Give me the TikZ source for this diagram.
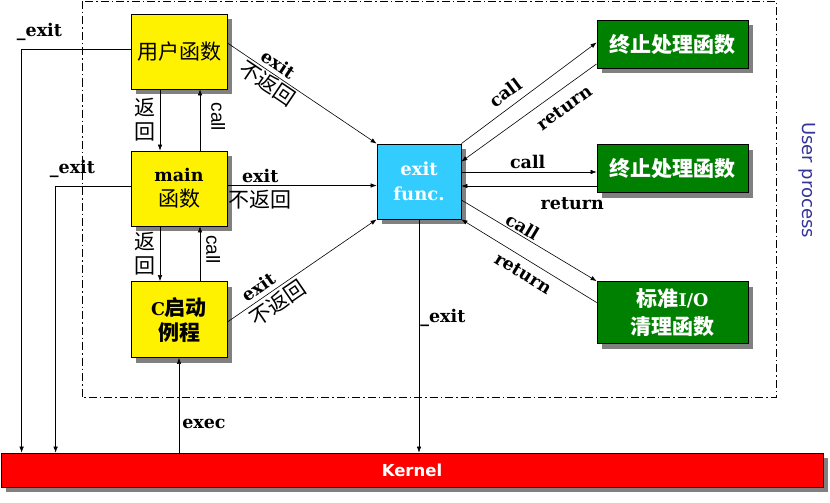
\documentclass[tikz,border=0pt]{standalone}
\usepackage{fontspec}
\setmainfont{DejaVu Serif}
\setsansfont{DejaVu Sans}
\newfontfamily\cjk{Noto Sans CJK SC}
\newfontfamily\arialf{Liberation Sans}
\usetikzlibrary{arrows.meta,calc,shadows}

\definecolor{shade}{RGB}{128,128,128}
\definecolor{xblue}{RGB}{51,204,255}
\definecolor{hgreen}{RGB}{0,128,0}
\definecolor{upblue}{RGB}{51,51,153}

\newcommand\zh[1]{{\cjk\fontsize{21}{25}\selectfont #1}}

\begin{document}
\begin{tikzpicture}[x=1pt,y=-1pt,
  box/.style={draw,line width=0.8pt,inner sep=0pt,align=center,
    drop shadow={shadow xshift=5pt,shadow yshift=-5pt,fill=shade,opacity=1}},
  ubox/.style={box,fill=yellow,minimum width=96pt,minimum height=75pt,
    font=\bfseries\fontsize{17.5}{25}\selectfont},
  hbox/.style={box,fill=hgreen,text=white,minimum width=151pt,minimum height=48pt,
    font=\bfseries\fontsize{17.5}{28}\selectfont},
  arr/.style={-{Latex[length=6pt,width=4.5pt]},line width=0.6pt},
  lbl/.style={font=\bfseries\fontsize{17.5}{20}\selectfont,inner sep=2pt},
  zlbl/.style={font=\cjk\fontsize{21}{24}\selectfont,inner sep=2pt},
  vlbl/.style={font=\arialf\fontsize{19}{20}\selectfont,rotate=-90,anchor=south}]

  \useasboundingbox (0,0) rectangle (830,503);

  %% user process frame
  \draw[line width=0.7pt,dash pattern=on 8pt off 3pt on 1.5pt off 3pt]
  (82,1) rectangle (776,397.5);
  \node[rotate=-90,text=upblue,font=\sffamily\fontsize{18}{20}\selectfont]
  (uproc) at (807,180) {User process};

  \node[ubox] (ufunc) at (179,51.5) {\mdseries\zh{用户函数}};
  \node[ubox] (mainf) at (179,188.5) {main\\\mdseries\zh{函数}};
  \node[ubox,minimum height=76pt] (cstart) at (179,319.5) {C\zh{启动}\\\zh{例程}};

  \node[box,fill=xblue,text=white,minimum width=84pt,minimum height=75pt,
  font=\bfseries\fontsize{18}{25}\selectfont] (exitf) at (419,181.5) {exit\\func.};

  \node[hbox] (h1) at (672.5,44.5) {\zh{终止处理函数}};
  \node[hbox] (h2) at (672.5,168.5) {\zh{终止处理函数}};
  \node[hbox,minimum height=62pt] (stdio) at (672.5,312.5) {\zh{标准}I/O\\\zh{清理函数}};

  \node[box,fill=red,text=white,minimum width=822pt,minimum height=34pt,
  font=\sffamily\bfseries\fontsize{16.5}{18}\selectfont] (kernel) at (412,470) {Kernel};

  %% _exit to kernel
  \draw[arr] ($(ufunc.west)+(0,-2.5)$) -| ($(kernel.north west)+(21,0)$)
  node[lbl,pos=.5,anchor=base west,inner sep=0pt,xshift=-5pt,yshift=12pt] {\_exit};
  \draw[arr] ($(mainf.west)+(0,-2.5)$) -| ($(kernel.north west)+(55,0)$)
  node[lbl,pos=.5,anchor=base west,inner sep=0pt,xshift=-6pt,yshift=13pt] {\_exit};
  \draw[arr] (exitf.south) -- (exitf.south |- kernel.north)
  node[lbl,pos=.44,anchor=base west,inner sep=1pt] {\_exit};
  \draw[arr] (cstart.south |- kernel.north) -- (cstart.south)
  node[lbl,pos=.25,anchor=base west,inner sep=0pt,xshift=3pt] {exec};

  %% call / return between the yellow boxes
  \draw[arr] ($(ufunc.south)+(-19,0)$) -- ($(mainf.north)+(-19,0)$)
  node[zlbl,midway,left,align=center,inner sep=4pt] {返\\回};
  \draw[arr] ($(mainf.north)+(21,0)$) -- ($(ufunc.south)+(21,0)$)
  node[vlbl,pos=.55,inner sep=11pt] {call};
  \draw[arr] ($(mainf.south)+(-19,0)$) -- ($(cstart.north)+(-19,0)$)
  node[zlbl,midway,left,align=center,inner sep=4pt] {返\\回};
  \draw[arr] ($(cstart.north)+(21,0)$) -- ($(mainf.south)+(21,0)$)
  node[vlbl,pos=.58,inner sep=6pt] {call};

  %% exit -> exit func.
  \draw[arr] ($(ufunc.east)+(0,-8.5)$) -- (exitf.north west)
  node[lbl,pos=.30,above,sloped,inner sep=3.5pt] {exit}
  node[zlbl,pos=.31,below,sloped,inner sep=1pt] {不返回};
  \draw[arr] ($(mainf.east)+(0,-3)$) -- ($(exitf.west)+(0,4)$)
  node[lbl,pos=.22,above] {exit}
  node[zlbl,pos=.22,below,inner sep=4pt] {不返回};
  \draw[arr] ($(cstart.east)+(0,2.5)$) -- (exitf.south west)
  node[lbl,pos=.25,above,sloped,inner sep=4.5pt] {exit}
  node[zlbl,pos=.29,below,sloped,inner sep=3pt] {不返回};

  %% exit func. <-> handlers
  \draw[arr] (exitf.north east) -- ($(h1.west)+(0,-2)$)
  node[lbl,pos=.39,above,sloped,inner sep=7.5pt] {call};
  \draw[arr] ($(h1.south west)+(0,-5)$) -- ($(exitf.north east)+(0,18)$)
  node[lbl,pos=.31,below,sloped,inner sep=10.5pt] {return};
  \draw[arr] ($(exitf.east)+(0,-9.5)$) -- ($(h2.west)+(0,3.5)$)
  node[lbl,pos=.49,above,inner sep=2.5pt] {call};
  \draw[arr] ($(h2.west)+(0,17.5)$) -- ($(exitf.east)+(0,4.5)$)
  node[lbl,pos=.18,below,inner sep=11pt] {return};
  \draw[arr] ($(exitf.east)+(0,18.5)$) -- (stdio.north west)
  node[lbl,pos=.42,above,sloped,inner sep=1.5pt] {call};
  \draw[arr] ($(stdio.west)+(0,-10)$) -- (exitf.south east)
  node[lbl,pos=.49,below,sloped,inner sep=7.5pt] {return};

\end{tikzpicture}
\end{document}
